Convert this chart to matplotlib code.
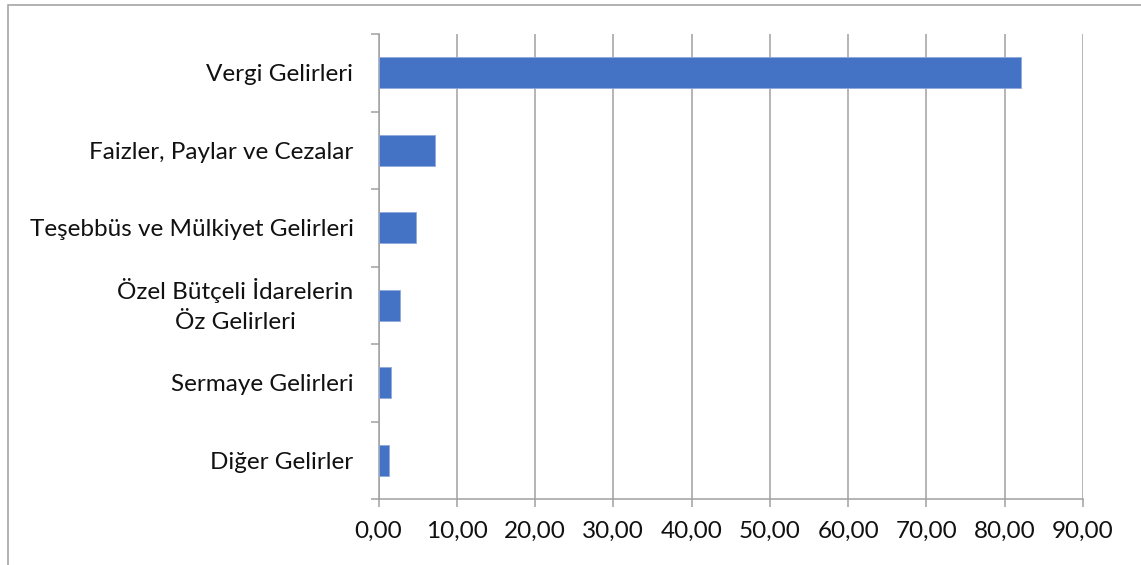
import matplotlib
matplotlib.use("Agg")
import matplotlib.pyplot as plt
from matplotlib.patches import Rectangle
import numpy as np

categories = [
    "Vergi Gelirleri",
    "Faizler, Paylar ve Cezalar",
    "Teşebbüs ve Mülkiyet Gelirleri",
    "Özel Bütçeli İdarelerin\nÖz Gelirleri",
    "Sermaye Gelirleri",
    "Diğer Gelirler",
]
values = [82.05, 7.26, 4.83, 2.79, 1.60, 1.34]
x_ticks = [0, 10, 20, 30, 40, 50, 60, 70, 80, 90]
x_labels = ["0,00", "10,00", "20,00", "30,00", "40,00", "50,00",
            "60,00", "70,00", "80,00", "90,00"]

plt.rcParams["font.family"] = ["Lato", "DejaVu Sans"]

W, H = 1141, 565
fig = plt.figure(figsize=(W / 100, H / 100), dpi=100)
fig.patch.set_facecolor("white")

# Chart frame (open to the right and bottom)
fig.add_artist(Rectangle((8 / W, -0.1), 1.2, 1 - 5 / H + 0.1,
                         transform=fig.transFigure, fill=False,
                         edgecolor="#a6a6a6", linewidth=1.2))

ax = fig.add_axes([378.5 / W, 1 - 499 / H, (1083 - 378.5) / W, (499 - 34) / H])

n = len(categories)
pos = np.arange(n)[::-1]
ax.barh(pos, values, height=0.4, color="#4472C4", edgecolor="#8faadc",
        linewidth=0.6, zorder=3)

ax.set_xlim(0, 90)
ax.set_ylim(-0.5, n - 0.5)

ax.set_xticks(x_ticks)
ax.set_xticklabels(x_labels, fontsize=17.5, color="#111111")
ax.xaxis.grid(True, color="#a0a0a0", linewidth=1.1, zorder=0)
ax.tick_params(axis="x", length=6, width=1.1, color="#a0a0a0", pad=10)

ax.set_yticks(pos)
ax.set_yticklabels(categories, fontsize=17.5, color="#111111",
                   multialignment="center", linespacing=1.55)
for lbl in ax.get_yticklabels():
    if "\n" in lbl.get_text():
        lbl.set_verticalalignment("center")
ax.set_yticks(np.arange(n + 1) - 0.5, minor=True)
ax.tick_params(axis="y", which="major", length=0, pad=18)
ax.tick_params(axis="y", which="minor", length=6, width=1.1, color="#a0a0a0")

for side in ["top", "right"]:
    ax.spines[side].set_visible(False)
for side in ["left", "bottom"]:
    ax.spines[side].set_color("#a0a0a0")
    ax.spines[side].set_linewidth(1.1)

fig.savefig("out.png", dpi=100, facecolor="white")
